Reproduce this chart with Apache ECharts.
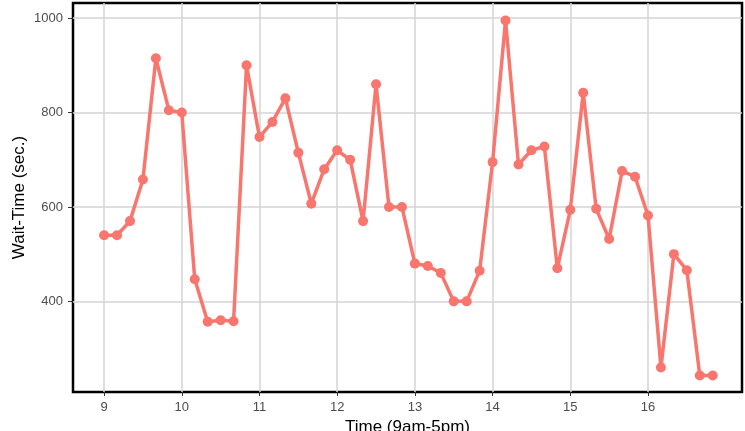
<!DOCTYPE html>
<html>
<head>
<meta charset="utf-8">
<script src="https://cdn.jsdelivr.net/npm/echarts@6/dist/echarts.min.js"></script>
<style>
  html, body { margin: 0; padding: 0; background: #fff; }
  #chart { width: 745px; height: 431px; }
</style>
</head>
<body>
<div id="chart"></div>
<script>
// 10-minute slots from 9:00 to 16:50
const times = [
  '9:00', '9:10', '9:20', '9:30', '9:40', '9:50',
  '10:00', '10:10', '10:20', '10:30', '10:40', '10:50',
  '11:00', '11:10', '11:20', '11:30', '11:40', '11:50',
  '12:00', '12:10', '12:20', '12:30', '12:40', '12:50',
  '13:00', '13:10', '13:20', '13:30', '13:40', '13:50',
  '14:00', '14:10', '14:20', '14:30', '14:40', '14:50',
  '15:00', '15:10', '15:20', '15:30', '15:40', '15:50',
  '16:00', '16:10', '16:20', '16:30', '16:40', '16:50'
];
const waitTimes = [
  540, 540, 570, 658, 915, 805,
  800, 447, 357, 360, 358, 900,
  748, 780, 830, 715, 607, 680,
  720, 700, 570, 860, 600, 600,
  480, 475, 460, 400, 400, 465,
  695, 995, 690, 720, 728, 470,
  594, 842, 596, 532, 676, 664,
  582, 260, 500, 466, 243, 243
];
const xTicks = [9, 10, 11, 12, 13, 14, 15, 16];
const yTicks = [400, 600, 800, 1000];

const toHour = s => {
  const [h, m] = s.split(':').map(Number);
  return h + m / 60;
};

const chart = echarts.init(document.getElementById('chart'));
const gridColor = '#d4d4d4';
const labelColor = '#4d4d4d';

const option = {
  animation: false,
  backgroundColor: '#fff',
  grid: {
    show: true,
    left: 73,
    right: 3,
    top: 3,
    bottom: 39,
    outerBoundsMode: 'none',
    containLabel: false,
    borderColor: '#000',
    borderWidth: 2.5,
    backgroundColor: '#fff'
  },
  xAxis: {
    type: 'value',
    min: 8.6,
    max: 17.21,
    name: 'Time (9am-5pm)',
    nameLocation: 'middle',
    nameGap: 27,
    nameMoveOverlap: false,
    nameTextStyle: { color: '#000', fontSize: 17, fontFamily: 'Liberation Sans' },
    axisLine: { show: false },
    axisTick: {
      show: true,
      customValues: xTicks,
      length: 4,
      lineStyle: { color: '#333', width: 1 }
    },
    axisLabel: {
      customValues: xTicks,
      color: labelColor,
      fontSize: 13,
      margin: 9,
      fontFamily: 'Liberation Sans'
    },
    splitLine: { show: true, lineStyle: { color: gridColor, width: 1.5 } }
  },
  yAxis: {
    type: 'value',
    min: 208,
    max: 1032,
    name: 'Wait-Time (sec.)',
    nameLocation: 'middle',
    nameGap: 45,
    nameMoveOverlap: false,
    nameTextStyle: { color: '#000', fontSize: 17, fontFamily: 'Liberation Sans' },
    axisLine: { show: false },
    axisTick: {
      show: true,
      customValues: yTicks,
      length: 5,
      lineStyle: { color: '#333', width: 1 }
    },
    axisLabel: {
      customValues: yTicks,
      formatter: v => String(v),
      color: labelColor,
      fontSize: 13,
      margin: 10,
      fontFamily: 'Liberation Sans'
    },
    splitLine: { show: true, lineStyle: { color: gridColor, width: 1.5 } }
  },
  series: [{
    type: 'line',
    data: times.map((t, i) => [toHour(t), waitTimes[i]]),
    symbol: 'circle',
    symbolSize: 10,
    lineStyle: { color: '#F8766D', width: 3.5 },
    itemStyle: { color: '#F8766D' }
  }]
};
chart.setOption(option);
</script>
</body>
</html>
